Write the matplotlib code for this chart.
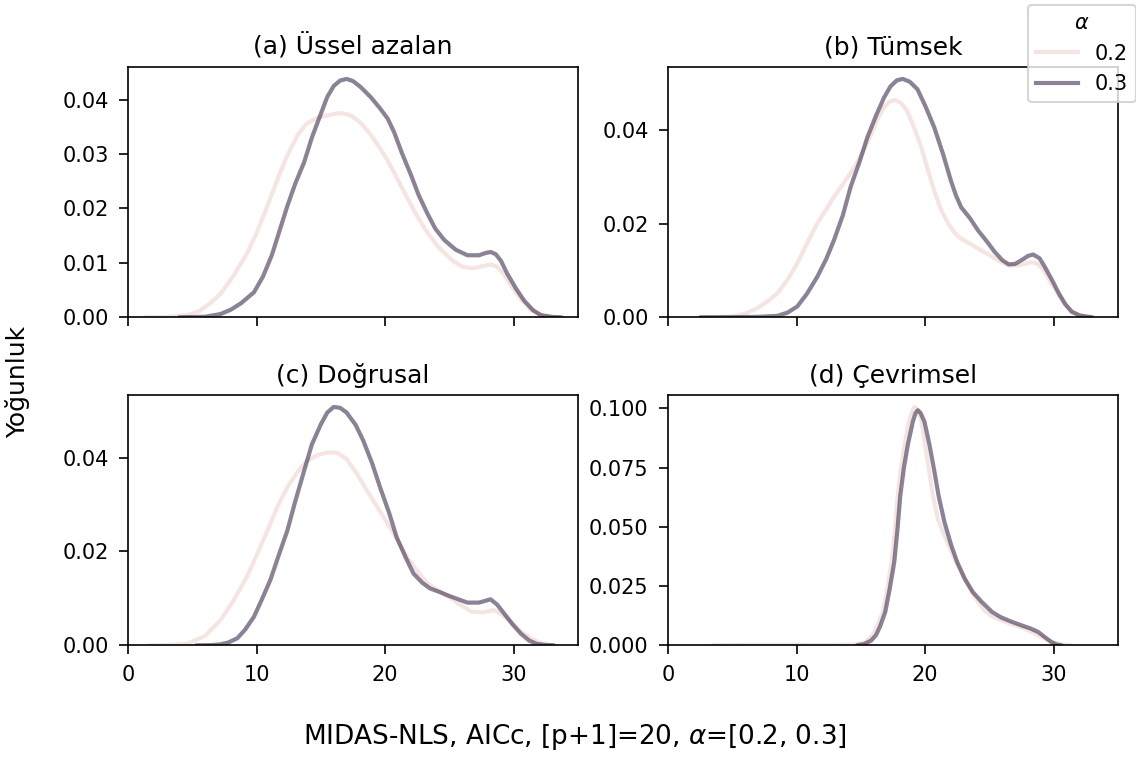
import matplotlib
matplotlib.use("Agg")
import matplotlib.pyplot as plt
from matplotlib.lines import Line2D

# ---- data (x = value, y = density) ----
titles = ["(a) Üssel azalan", "(b) Tümsek", "(c) Doğrusal", "(d) Çevrimsel"]
alpha_levels = ["0.2", "0.3"]

a_x_02 = [1.3, 3.0, 4.6, 5.5, 6.3, 7.2, 8.2, 9.25, 10.0, 10.8, 11.6, 12.4, 13.2, 13.9, 14.7, 15.5, 16.1, 16.7, 17.4, 18.1, 18.7, 19.4, 20.2, 21.2, 22.2, 23.1, 24.1, 25.2, 26.0, 26.8, 27.6, 28.2, 28.7, 29.2, 29.8, 30.6, 31.3, 32.3, 33.5]
a_y_02 = [0.0, 0.00005, 0.0004, 0.0011, 0.0024, 0.0043, 0.0076, 0.0117, 0.0155, 0.0202, 0.0252, 0.0298, 0.0335, 0.0356, 0.0366, 0.0371, 0.0374, 0.0375, 0.0370, 0.0357, 0.0341, 0.0318, 0.0288, 0.0243, 0.0198, 0.0162, 0.0130, 0.0105, 0.0093, 0.0090, 0.0094, 0.0097, 0.0093, 0.0080, 0.0058, 0.0032, 0.0014, 0.0003, 0.0]
a_x_03 = [4.0, 6.0, 7.2, 8.0, 8.8, 9.8, 10.5, 11.2, 11.8, 12.4, 13.0, 13.7, 14.3, 15.0, 15.5, 16.0, 16.5, 17.0, 17.5, 18.1, 18.9, 19.6, 20.2, 20.7, 21.3, 22.0, 22.6, 23.3, 23.9, 24.6, 25.5, 26.4, 27.3, 27.8, 28.2, 28.6, 29.0, 29.5, 30.2, 30.8, 31.5, 32.1, 33.0, 33.7]
a_y_03 = [0.0, 0.0001, 0.0006, 0.0014, 0.0026, 0.0046, 0.0075, 0.0115, 0.0160, 0.0205, 0.0245, 0.0285, 0.0330, 0.0374, 0.0405, 0.0425, 0.0435, 0.0438, 0.0434, 0.0423, 0.0404, 0.0384, 0.0365, 0.0340, 0.0302, 0.0262, 0.0225, 0.0190, 0.0163, 0.0142, 0.0124, 0.0114, 0.0114, 0.0118, 0.0120, 0.0116, 0.0104, 0.0080, 0.0052, 0.0031, 0.0013, 0.0004, 0.00005, 0.0]

b_x_02 = [2.6, 4.0, 5.1, 6.0, 6.9, 7.7, 8.5, 9.3, 10.05, 10.8, 11.6, 12.3, 12.9, 13.7, 14.5, 15.2, 15.8, 16.3, 16.8, 17.2, 17.66, 18.1, 18.6, 19.1, 19.7, 20.2, 20.7, 21.2, 21.8, 22.3, 22.8, 23.5, 24.1, 24.8, 25.4, 26.0, 26.5, 27.0, 27.6, 28.3, 28.8, 29.3, 29.8, 30.4, 30.9, 31.4, 32.2, 33.0]
b_y_02 = [0.0, 0.00005, 0.0002, 0.0008, 0.0019, 0.0033, 0.0051, 0.0080, 0.0115, 0.0157, 0.0200, 0.0230, 0.0257, 0.0288, 0.0320, 0.0356, 0.0391, 0.0424, 0.0448, 0.0460, 0.0464, 0.0458, 0.0441, 0.0408, 0.0363, 0.0316, 0.0271, 0.0232, 0.0200, 0.0180, 0.0168, 0.0157, 0.0147, 0.0136, 0.0126, 0.0117, 0.0111, 0.0110, 0.0113, 0.0118, 0.0113, 0.0097, 0.0073, 0.0047, 0.0026, 0.0012, 0.0003, 0.0]
b_x_03 = [2.5, 5.0, 7.0, 8.5, 9.3, 10.05, 10.8, 11.6, 12.3, 12.9, 13.6, 14.2, 14.9, 15.5, 16.2, 16.8, 17.3, 17.8, 18.26, 18.8, 19.4, 20.0, 20.7, 21.4, 22.0, 22.4, 22.8, 23.5, 24.1, 24.8, 25.4, 26.0, 26.5, 27.0, 27.5, 28.0, 28.4, 28.9, 29.3, 29.9, 30.4, 30.9, 31.4, 32.0, 32.7, 33.0]
b_y_03 = [0.0, 0.00002, 0.0001, 0.0003, 0.0010, 0.0023, 0.0050, 0.0086, 0.0124, 0.0164, 0.0218, 0.0278, 0.0332, 0.0384, 0.0432, 0.0469, 0.0493, 0.0506, 0.0509, 0.0503, 0.0487, 0.0452, 0.0406, 0.0348, 0.0292, 0.0260, 0.0235, 0.0211, 0.0186, 0.0162, 0.0140, 0.0122, 0.0113, 0.0114, 0.0122, 0.0131, 0.0134, 0.0126, 0.0108, 0.0078, 0.0051, 0.0028, 0.0012, 0.0004, 0.0001, 0.0]

c_x_02 = [1.6, 3.0, 4.6, 6.0, 7.2, 8.2, 9.25, 10.2, 11.07, 11.7, 12.4, 13.2, 13.9, 14.7, 15.5, 16.3, 17.0, 17.8, 18.6, 19.4, 20.2, 21.0, 21.7, 22.5, 23.3, 24.1, 24.8, 25.7, 26.7, 27.6, 28.5, 29.1, 29.8, 30.5, 31.3, 32.2, 33.1]
c_y_02 = [0.0, 0.00005, 0.0003, 0.0020, 0.0054, 0.0095, 0.0146, 0.0204, 0.0259, 0.0300, 0.0337, 0.0370, 0.0393, 0.0405, 0.0411, 0.0410, 0.0397, 0.0366, 0.0329, 0.0294, 0.0259, 0.0222, 0.0188, 0.0158, 0.0132, 0.0117, 0.0107, 0.0089, 0.0072, 0.0070, 0.0075, 0.0065, 0.0050, 0.0031, 0.0015, 0.0004, 0.0]
c_x_03 = [5.3, 6.5, 7.2, 7.8, 8.5, 9.1, 9.8, 10.4, 11.07, 11.7, 12.4, 13.0, 13.7, 14.3, 15.0, 15.5, 16.0, 16.5, 17.0, 17.7, 18.3, 19.0, 19.6, 20.3, 20.9, 21.6, 22.2, 22.9, 23.5, 24.2, 24.8, 25.6, 26.4, 27.3, 28.2, 28.7, 29.25, 29.9, 30.55, 31.2, 31.8, 32.5, 33.1]
c_y_03 = [0.0, 0.00005, 0.0002, 0.0006, 0.0015, 0.0033, 0.0061, 0.0097, 0.0139, 0.0190, 0.0245, 0.0306, 0.0372, 0.0428, 0.0471, 0.0496, 0.0508, 0.0506, 0.0496, 0.0470, 0.0436, 0.0387, 0.0337, 0.0283, 0.0230, 0.0187, 0.0153, 0.0133, 0.0121, 0.0114, 0.0107, 0.0099, 0.0091, 0.0091, 0.0098, 0.0087, 0.0068, 0.0045, 0.0025, 0.0010, 0.0003, 0.00005, 0.0]

d_x_02 = [3.5, 6.0, 9.0, 12.0, 14.5, 15.3, 15.9, 16.3, 16.7, 17.05, 17.4, 17.65, 17.87, 18.1, 18.4, 18.75, 19.0, 19.17, 19.4, 19.7, 20.0, 20.3, 20.6, 21.0, 21.5, 22.0, 22.4, 23.2, 23.9, 24.6, 25.2, 25.9, 26.7, 27.5, 28.2, 28.8, 29.5, 30.1, 30.7, 31.3]
d_y_02 = [0.0, 0.0002, 0.0002, 0.0001, 0.0003, 0.0012, 0.0042, 0.0085, 0.0141, 0.0240, 0.0352, 0.0490, 0.0633, 0.0740, 0.0845, 0.0945, 0.0990, 0.1006, 0.0995, 0.0950, 0.0845, 0.0740, 0.0633, 0.0530, 0.0464, 0.0400, 0.0352, 0.0267, 0.0200, 0.0148, 0.0122, 0.0106, 0.0090, 0.0075, 0.0059, 0.0042, 0.0024, 0.0010, 0.0003, 0.0]
d_x_03 = [14.7, 15.3, 15.8, 16.17, 16.5, 16.9, 17.25, 17.6, 17.85, 18.07, 18.35, 18.65, 19.04, 19.25, 19.43, 19.65, 19.95, 20.34, 20.7, 21.04, 21.5, 22.03, 22.5, 23.07, 23.7, 24.4, 25.2, 25.9, 26.7, 27.5, 28.2, 28.8, 29.3, 29.8, 30.2, 30.6]
d_y_03 = [0.0, 0.0006, 0.0020, 0.0042, 0.0080, 0.0141, 0.0240, 0.0352, 0.0490, 0.0633, 0.0750, 0.0845, 0.0943, 0.0980, 0.0992, 0.0980, 0.0943, 0.0845, 0.0740, 0.0633, 0.0520, 0.0422, 0.0350, 0.0282, 0.0225, 0.0183, 0.0141, 0.0118, 0.0100, 0.0084, 0.0071, 0.0056, 0.0035, 0.0014, 0.0004, 0.0]

panels = [
    (a_x_02, a_y_02, a_x_03, a_y_03),
    (b_x_02, b_y_02, b_x_03, b_y_03),
    (c_x_02, c_y_02, c_x_03, c_y_03),
    (d_x_02, d_y_02, d_x_03, d_y_03),
]
yticks = [
    [0.00, 0.01, 0.02, 0.03, 0.04],
    [0.00, 0.02, 0.04],
    [0.00, 0.02, 0.04],
    [0.000, 0.025, 0.050, 0.075, 0.100],
]
yfmt = ["{:.2f}", "{:.2f}", "{:.2f}", "{:.3f}"]

# ---- style ----
W, H, DPI = 1136, 770, 150
col_light = "#edd1cb"
col_dark = "#2d1e3e"
line_alpha = 0.55
lw = 2.0

plt.rcParams["font.family"] = ["DejaVu Sans"]
fig = plt.figure(figsize=(W / DPI, H / DPI), dpi=DPI)

# axes boxes in pixels: (left, top, width, height)
boxes = [(128, 67, 450, 250.3), (668, 67, 450, 250.3),
         (128, 395, 450, 250.3), (668, 395, 450, 250.3)]

for i, (l, t, w, h) in enumerate(boxes):
    ax = fig.add_axes([l / W, 1 - (t + h) / H, w / W, h / H])
    x02, y02, x03, y03 = panels[i]
    ax.plot(x02, y02, color=col_light, alpha=line_alpha, lw=lw,
            solid_joinstyle="round", solid_capstyle="round")
    ax.plot(x03, y03, color=col_dark, alpha=line_alpha, lw=lw,
            solid_joinstyle="round", solid_capstyle="round")
    ax.set_xlim(0, 35)
    ax.set_ylim(0, max(max(y02), max(y03)) * 1.05)
    ax.set_yticks(yticks[i])
    ax.set_yticklabels([yfmt[i].format(v) for v in yticks[i]])
    ax.set_xticks([0, 10, 20, 30])
    if i < 2:
        ax.set_xticklabels([])
    ax.set_title(titles[i], fontsize=12)
    ax.tick_params(labelsize=10, length=4.3, pad=5)

fig.text(18 / W, 1 - 382 / H, "Yoğunluk", rotation=90, ha="center", va="center", fontsize=12)
fig.text(575 / W, 1 - 737 / H, r"MIDAS-NLS, AICc, [p+1]=20, $\alpha$=[0.2, 0.3]",
         ha="center", va="center", fontsize=12.6)

handles = [Line2D([], [], color=col_light, alpha=line_alpha, lw=lw),
           Line2D([], [], color=col_dark, alpha=line_alpha, lw=lw)]
fig.legend(handles, alpha_levels, title=r"$\alpha$", loc="upper left",
           bbox_to_anchor=(1028 / W, 1 - 5 / H), borderaxespad=0, fontsize=10,
           title_fontsize=10)

fig.savefig("out.png", dpi=DPI)
